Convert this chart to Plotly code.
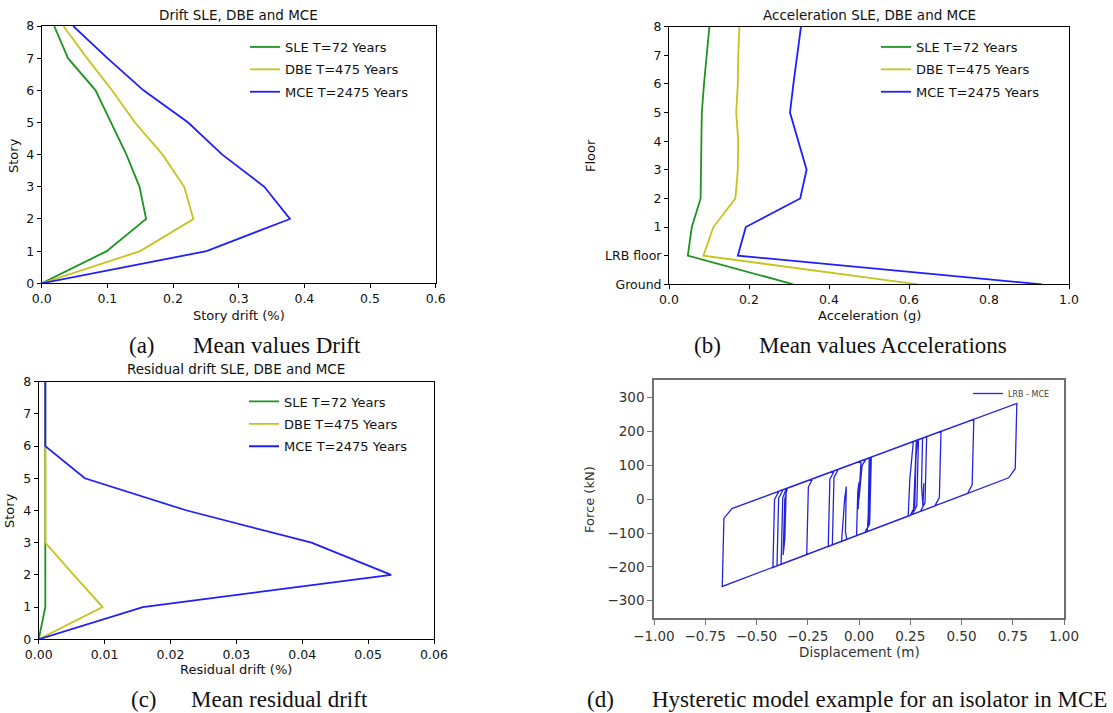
import plotly.graph_objects as go

W, H = 1113, 713

# ---------------- data ----------------
stories = [0, 1, 2, 3, 4, 5, 6, 7, 8]
series_names = ["SLE T=72 Years", "DBE T=475 Years", "MCE T=2475 Years"]

drift_sle = [0, 0.099, 0.159, 0.149, 0.129, 0.106, 0.082, 0.040, 0.019]
drift_dbe = [0, 0.150, 0.231, 0.217, 0.184, 0.142, 0.107, 0.069, 0.033]
drift_mce = [0, 0.251, 0.378, 0.339, 0.275, 0.223, 0.155, 0.100, 0.048]

floor_labels = ["Ground", "LRB floor", "1", "2", "3", "4", "5", "6", "7", "8"]
floor_pos = [0, 1, 2, 3, 4, 5, 6, 7, 8, 9]
acc_sle = [0.311, 0.047, 0.057, 0.079, 0.080, 0.081, 0.082, 0.0875, 0.094, 0.101]
acc_dbe = [0.622, 0.086, 0.111, 0.166, 0.172, 0.173, 0.168, 0.172, 0.173, 0.176]
acc_mce = [0.932, 0.172, 0.192, 0.328, 0.344, 0.323, 0.3025, 0.311, 0.321, 0.330]

res_sle = [0, 0.001, 0.001, 0.001, 0.001, 0.001, 0.001, 0.001, 0.001]
res_dbe = [0, 0.0097, 0.0053, 0.001, 0.001, 0.001, 0.001, 0.001, 0.001]
res_mce = [0, 0.0158, 0.0535, 0.0414, 0.0225, 0.0070, 0.001, 0.001, 0.001]

hyst_disp = [0.000, 0.015, 0.035, 0.060, 0.052, 0.030, -0.400, -0.392, -0.370,
             0.280, 0.272, 0.250, -0.255, -0.247, -0.225, 0.400, 0.392, 0.370,
             -0.420, -0.412, -0.390, 0.560, 0.552, 0.530, -0.667, -0.659, -0.620,
             0.770, 0.762, 0.730, -0.150, -0.142, -0.120, 0.330, 0.322, 0.300,
             -0.130, -0.122, -0.100, 0.290, 0.282, 0.260, -0.380, -0.372, -0.355,
             -0.362, -0.370, -0.362, -0.350, 0.055, 0.048, 0.030, -0.085, -0.078,
             -0.070, -0.062, -0.066, -0.060, -0.012, -0.006, 0.000, -0.004, 0.002,
             0.010, 0.050, 0.045, 0.040, 0.240, 0.248, 0.265, 0.280, 0.272, 0.268,
             0.265, 0.275, 0.285, 0.310, 0.305, 0.312, 0.316]
hyst_force = [0, 100, 119, 124, -73, -98, -197, 3, 28,
              174, -22, -48, -164, 36, 61, 201, 5, -20,
              -202, -1, 24, 236, 42, 17, -258, -57, -28,
              283, 90, 63, -140, 59, 84, 185, -11, -36,
              -135, 64, 89, 176, -20, -45, -192, 4, 31,
              -120, -165, 0, 32, 123, -74, -98, -125, -60,
              0, 37, -95, -119, -108, 20, 50, -30, 40,
              113, 122, -50, -96, -50, 60, 170, 174, 50, -10,
              -44, 100, 175, 180, 40, -22, 47]

drift_ticks = [0.0, 0.1, 0.2, 0.3, 0.4, 0.5, 0.6]
drift_ticktext = ["0.0", "0.1", "0.2", "0.3", "0.4", "0.5", "0.6"]
acc_ticks = [0.0, 0.2, 0.4, 0.6, 0.8, 1.0]
acc_ticktext = ["0.0", "0.2", "0.4", "0.6", "0.8", "1.0"]
res_ticks = [0.0, 0.01, 0.02, 0.03, 0.04, 0.05, 0.06]
res_ticktext = ["0.00", "0.01", "0.02", "0.03", "0.04", "0.05", "0.06"]
disp_ticks = [-1.0, -0.75, -0.5, -0.25, 0.0, 0.25, 0.5, 0.75, 1.0]
disp_ticktext = ["\u22121.00", "\u22120.75", "\u22120.50", "\u22120.25", "0.00", "0.25", "0.50", "0.75", "1.00"]
force_ticks = [-300, -200, -100, 0, 100, 200, 300]
force_ticktext = ["\u2212300", "\u2212200", "\u2212100", "0", "100", "200", "300"]

colors = ["#1f931f", "#c6c41a", "#1e1eff"]
hyst_color = "#2424dc"

# ---------------- helpers ----------------
def px(xp):
    return xp / W

def py(yp):
    return 1 - yp / H

FONT = "DejaVu Sans"
SERIF = "Liberation Serif"

fig = go.Figure()

panel_series = [
    ("x", "y", "legend", [drift_sle, drift_dbe, drift_mce], stories),
    ("x2", "y2", "legend2", [acc_sle, acc_dbe, acc_mce], floor_pos),
    ("x3", "y3", "legend3", [res_sle, res_dbe, res_mce], stories),
]
for xa, ya, lg, vals, ys in panel_series:
    for i, (nm, v) in enumerate(zip(series_names, vals)):
        fig.add_trace(go.Scatter(
            x=v, y=ys, mode="lines", name=nm, xaxis=xa, yaxis=ya,
            line=dict(color=colors[i], width=1.8), legend=lg,
            legendgroup=lg + str(i), cliponaxis=True))

fig.add_trace(go.Scatter(
    x=hyst_disp, y=hyst_force, mode="lines", name="LRB - MCE",
    xaxis="x4", yaxis="y4", line=dict(color=hyst_color, width=1.3),
    legend="legend4"))

axis_common = dict(showline=True, linecolor="black", linewidth=1, mirror=True,
                   ticks="outside", ticklen=4, tickwidth=1, tickcolor="black",
                   showgrid=False, zeroline=False, automargin=False,
                   tickfont=dict(family=FONT, size=12.5, color="#111"))
axis_d = dict(showline=True, linecolor="#707070", linewidth=1.6, mirror=True,
              ticks="outside", ticklen=5, tickwidth=1.3, tickcolor="#707070",
              showgrid=False, zeroline=False, automargin=False,
              tickfont=dict(family=FONT, size=13.5, color="#333"))

def dom(a, b):
    return [a / W, b / W]

fig.update_layout(
    template="none",
    width=W, height=H, margin=dict(l=0, r=0, t=0, b=0, autoexpand=False),
    paper_bgcolor="white", plot_bgcolor="white",
    font=dict(family=FONT, color="#111"),
    xaxis=dict(domain=dom(41.7, 435.7), anchor="y", range=[0, 0.6],
               tickvals=drift_ticks, ticktext=drift_ticktext, **axis_common),
    yaxis=dict(domain=[py(283.3), py(26)], anchor="x", range=[0, 8],
               tickvals=stories, **axis_common),
    xaxis2=dict(domain=dom(669, 1069), anchor="y2", range=[0, 1.0],
                tickvals=acc_ticks, ticktext=acc_ticktext, **axis_common),
    yaxis2=dict(domain=[py(284.3), py(26.7)], anchor="x2", range=[0, 9],
                tickvals=floor_pos, ticktext=floor_labels, **axis_common),
    xaxis3=dict(domain=dom(38.7, 434), anchor="y3", range=[0, 0.06],
                tickvals=res_ticks, ticktext=res_ticktext, **axis_common),
    yaxis3=dict(domain=[py(639.3), py(381.7)], anchor="x3", range=[0, 8],
                tickvals=stories, **axis_common),
    xaxis4=dict(domain=dom(654, 1064), anchor="y4", range=[-1, 1],
                tickvals=disp_ticks, ticktext=disp_ticktext, **axis_d),
    yaxis4=dict(domain=[py(618.3), py(380)], anchor="x4", range=[-352, 352],
                tickvals=force_ticks, ticktext=force_ticktext, **axis_d),
)

leg_common = dict(xanchor="left", yanchor="top", bgcolor="rgba(255,255,255,0)",
                  borderwidth=0, font=dict(family=FONT, size=13, color="#111"),
                  tracegroupgap=2.5, traceorder="grouped")
fig.update_layout(
    legend=dict(x=px(245), y=py(32), **leg_common),
    legend2=dict(x=px(876), y=py(32), **leg_common),
    legend3=dict(x=px(244), y=py(386.5), **leg_common),
    legend4=dict(x=px(968), y=py(379), xanchor="left", yanchor="top",
                 bgcolor="rgba(255,255,255,0)", borderwidth=0,
                 font=dict(family=FONT, size=8, color="#444")),
)

ann = []
def text(t, x, y, size, family=FONT, color="#111", angle=0, xanchor="center"):
    ann.append(dict(text=t, x=px(x), y=py(y), xref="paper", yref="paper",
                    showarrow=False, xanchor=xanchor, yanchor="middle",
                    textangle=angle, font=dict(family=family, size=size, color=color)))

# subplot titles
text("Drift SLE, DBE and MCE", 238.7, 15, 13.5)
text("Acceleration SLE, DBE and MCE", 869, 15, 13.5)
text("Residual drift SLE, DBE and MCE", 236, 369, 13.5)
# axis titles
text("Story drift (%)", 238.7, 315, 13)
text("Acceleration (g)", 869, 315, 13)
text("Residual drift (%)", 236, 669, 13)
text("Displacement (m)", 859, 652, 13.5, color="#333")
text("Story", 13, 156, 13, angle=-90)
text("Floor", 590, 156, 13, angle=-90)
text("Story", 10, 511, 13, angle=-90)
text("Force (kN)", 589, 500, 13, color="#333", angle=-90)
# captions
text("(a)", 142, 345, 23, family=SERIF)
text("Mean values Drift", 191, 345, 23, family=SERIF, xanchor="left")
text("(b)", 707, 345, 23, family=SERIF)
text("Mean values Accelerations", 757, 345, 23, family=SERIF, xanchor="left")
text("(c)", 144.5, 699, 23, family=SERIF)
text("Mean residual drift", 189, 699, 23, family=SERIF, xanchor="left")
text("(d)", 600.5, 699, 23, family=SERIF)
text("Hysteretic model example for an isolator in MCE", 650, 699, 23,
     family=SERIF, xanchor="left")

fig.update_layout(annotations=ann)
fig.write_html("out.html")
